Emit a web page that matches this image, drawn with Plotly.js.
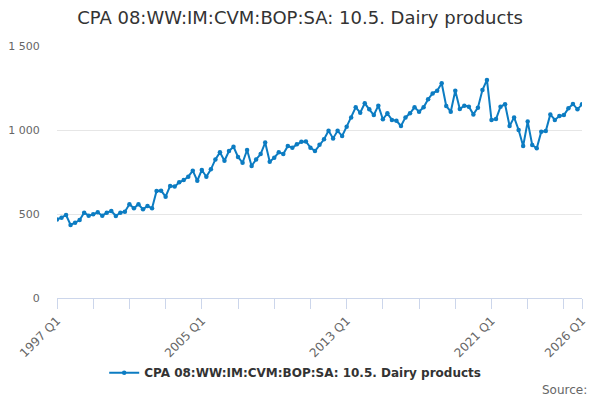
<!DOCTYPE html>
<html>
<head>
<meta charset="utf-8">
<script src="https://cdn.plot.ly/plotly-3.0.1.min.js"></script>
<style>
  html, body { margin: 0; padding: 0; background: #ffffff; }
  #chart { width: 600px; height: 400px; }
</style>
</head>
<body>
<div id="chart"></div>
<script>
// Quarterly index values, 1997 Q1 .. 2026 Q1
const seriesName = 'CPA 08:WW:IM:CVM:BOP:SA: 10.5. Dairy products';

const firstYear = 1997;
const lastYear = 2026;

const values = [
  468, 478, 494, 435, 448, 464, 508, 490,   // 1997-1998
  498, 510, 490, 508, 518, 488, 508, 514,   // 1999-2000
  558, 534, 558, 528, 548, 534, 637, 639,   // 2001-2002
  603, 667, 663, 689, 702, 722, 758, 698,   // 2003-2004
  762, 722, 766, 825, 867, 817, 875, 900,   // 2005-2006
  840, 805, 881, 786, 825, 857, 925, 811,   // 2007-2008
  835, 867, 857, 905, 895, 915, 930, 932,   // 2009-2010
  895, 875, 912, 945, 995, 950, 995, 965,   // 2011-2012
  1020, 1075, 1135, 1103, 1159, 1123, 1089, 1145, // 2013-2014
  1064, 1099, 1060, 1055, 1024, 1075, 1099, 1135, // 2015-2016
  1109, 1135, 1183, 1218, 1234, 1278, 1143, 1109, // 2017-2018
  1234, 1125, 1145, 1139, 1093, 1133, 1238, 1298, // 2019-2020
  1060, 1065, 1139, 1153, 1024, 1075, 1000, 905,  // 2021-2022
  1050, 911, 891, 990, 994, 1093, 1060, 1083,     // 2023-2024
  1089, 1129, 1155, 1123,                          // 2025
  1153                                             // 2026 Q1
];

// category labels like "1997 Q1"
const quarters = [];
for (let y = firstYear; y <= lastYear; y++) {
  for (let q = 1; q <= 4; q++) {
    if (quarters.length < values.length) quarters.push(y + ' Q' + q);
  }
}

// tick marks every 2 years, labels only on these
const labelledTicks = ['1997 Q1', '2005 Q1', '2013 Q1', '2021 Q1', '2026 Q1'];
const tickQuarters = quarters.filter((q, i) => i % 8 === 0);
tickQuarters.push(quarters[quarters.length - 1]);
const tickText = tickQuarters.map(q => labelledTicks.includes(q) ? q : '');

const lineColor = '#0c7cc2';

const trace = {
  type: 'scatter',
  mode: 'lines+markers',
  name: seriesName,
  x: quarters,
  y: values,
  line: { color: lineColor, width: 2 },
  marker: { color: lineColor, size: 4.5 },
  hovertemplate: '%{x}: %{y}<extra></extra>'
};

const layout = {
  width: 600,
  height: 400,
  paper_bgcolor: '#ffffff',
  plot_bgcolor: '#ffffff',
  font: { family: 'DejaVu Sans, sans-serif', color: '#666666', size: 11 },
  separators: '. ',
  title: {
    text: seriesName,
    font: { family: 'DejaVu Sans, sans-serif', size: 18, color: '#333333' },
    x: 0.5,
    xanchor: 'center',
    y: 0.955,
    yanchor: 'middle'
  },
  margin: { l: 57, r: 18, t: 46, b: 102 },
  showlegend: true,
  legend: {
    orientation: 'h',
    xref: 'container',
    x: 0.492,
    xanchor: 'center',
    yref: 'container',
    y: 0.068,
    yanchor: 'middle',
    itemwidth: 30,
    font: { family: 'DejaVu Sans, sans-serif', size: 12, color: '#333333', weight: 'bold' }
  },
  xaxis: {
    type: 'category',
    range: [0, quarters.length - 1],
    tickmode: 'array',
    tickvals: tickQuarters,
    ticktext: tickText,
    tickangle: -45,
    ticks: 'outside',
    ticklen: 10,
    tickcolor: '#ccd6eb',
    showline: true,
    linecolor: '#ccd6eb',
    linewidth: 1,
    showgrid: false,
    zeroline: false,
    tickfont: { size: 12, color: '#666666' }
  },
  yaxis: {
    range: [0, 1500],
    tickvals: [0, 500, 1000, 1500],
    separatethousands: true,
    showgrid: true,
    gridcolor: '#e6e6e6',
    zeroline: false,
    showline: false,
    ticks: 'outside',
    ticklen: 14,
    tickcolor: 'rgba(0,0,0,0)',
    tickfont: { size: 11, color: '#666666' }
  },
  annotations: [{
    text: 'Source:',
    xref: 'paper',
    yref: 'paper',
    x: 1.013,
    y: -0.365,
    xanchor: 'right',
    yanchor: 'middle',
    showarrow: false,
    font: { size: 12, color: '#666666' }
  }]
};

Plotly.newPlot('chart', [trace], layout, { displayModeBar: false, staticPlot: true });
</script>
</body>
</html>
